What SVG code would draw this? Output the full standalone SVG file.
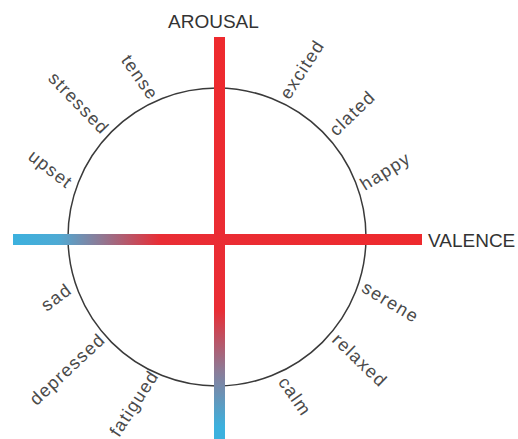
<svg xmlns="http://www.w3.org/2000/svg" width="518" height="439" viewBox="0 0 518 439">
<defs>
<linearGradient id="gv" gradientUnits="userSpaceOnUse" x1="0" y1="37" x2="0" y2="439">
<stop offset="0" stop-color="#ee2a2e"/>
<stop offset="0.68" stop-color="#e92d35"/>
<stop offset="0.83" stop-color="#8c7b97"/>
<stop offset="0.97" stop-color="#3cb1de"/>
<stop offset="1" stop-color="#3cb1de"/>
</linearGradient>
<linearGradient id="gh" gradientUnits="userSpaceOnUse" x1="13" y1="0" x2="422" y2="0">
<stop offset="0" stop-color="#3cb1de"/>
<stop offset="0.11" stop-color="#4eaad4"/>
<stop offset="0.21" stop-color="#8c7b97"/>
<stop offset="0.36" stop-color="#e92d35"/>
<stop offset="1" stop-color="#ee2a2e"/>
</linearGradient>
<style>
.lbl{font-family:"Liberation Sans",Arial,sans-serif;font-size:18px;fill:#4a4a4a;letter-spacing:1.3px;text-anchor:middle}
.axis{font-family:"Liberation Sans",Arial,sans-serif;font-size:19px;fill:#333}
.ring{fill:none;stroke:#3a3a3a;stroke-width:1.5}
</style>
</defs>
<rect width="518" height="439" fill="#fff"/>
<g id="circle"><circle class="ring" cx="217" cy="237" r="149"/></g>
<g id="connectors">
<rect x="13" y="234" width="409" height="11" fill="url(#gh)"/>
<rect x="214" y="37" width="11" height="402" fill="url(#gv)"/>
</g>
<g id="arousal"><text class="axis" x="168" y="28">AROUSAL</text></g>
<g id="valence"><text class="axis" x="428" y="247">VALENCE</text></g>
<g id="tense"><text class="lbl" transform="translate(139,78) rotate(55)" y="5">tense</text></g>
<g id="stressed"><text class="lbl" transform="translate(78,104) rotate(46)" y="5">stressed</text></g>
<g id="upset"><text class="lbl" transform="translate(50,170) rotate(38)" y="5">upset</text></g>
<g id="excited"><text class="lbl" transform="translate(303,70) rotate(-57)" y="5">excited</text></g>
<g id="clated"><text class="lbl" transform="translate(353,114) rotate(-44)" y="5">clated</text></g>
<g id="happy"><text class="lbl" transform="translate(386,172) rotate(-32)" y="5">happy</text></g>
<g id="serene"><text class="lbl" transform="translate(390,303) rotate(31)" y="5">serene</text></g>
<g id="relaxed"><text class="lbl" transform="translate(359,361) rotate(44)" y="5">relaxed</text></g>
<g id="calm"><text class="lbl" transform="translate(294,397) rotate(55)" y="5">calm</text></g>
<g id="sad"><text class="lbl" transform="translate(57,298) rotate(-37)" y="5">sad</text></g>
<g id="depressed"><text class="lbl" transform="translate(68,370) rotate(-43)" y="5">depressed</text></g>
<g id="fatigued"><text class="lbl" transform="translate(135,404) rotate(-57)" y="5">fatigued</text></g>
</svg>
